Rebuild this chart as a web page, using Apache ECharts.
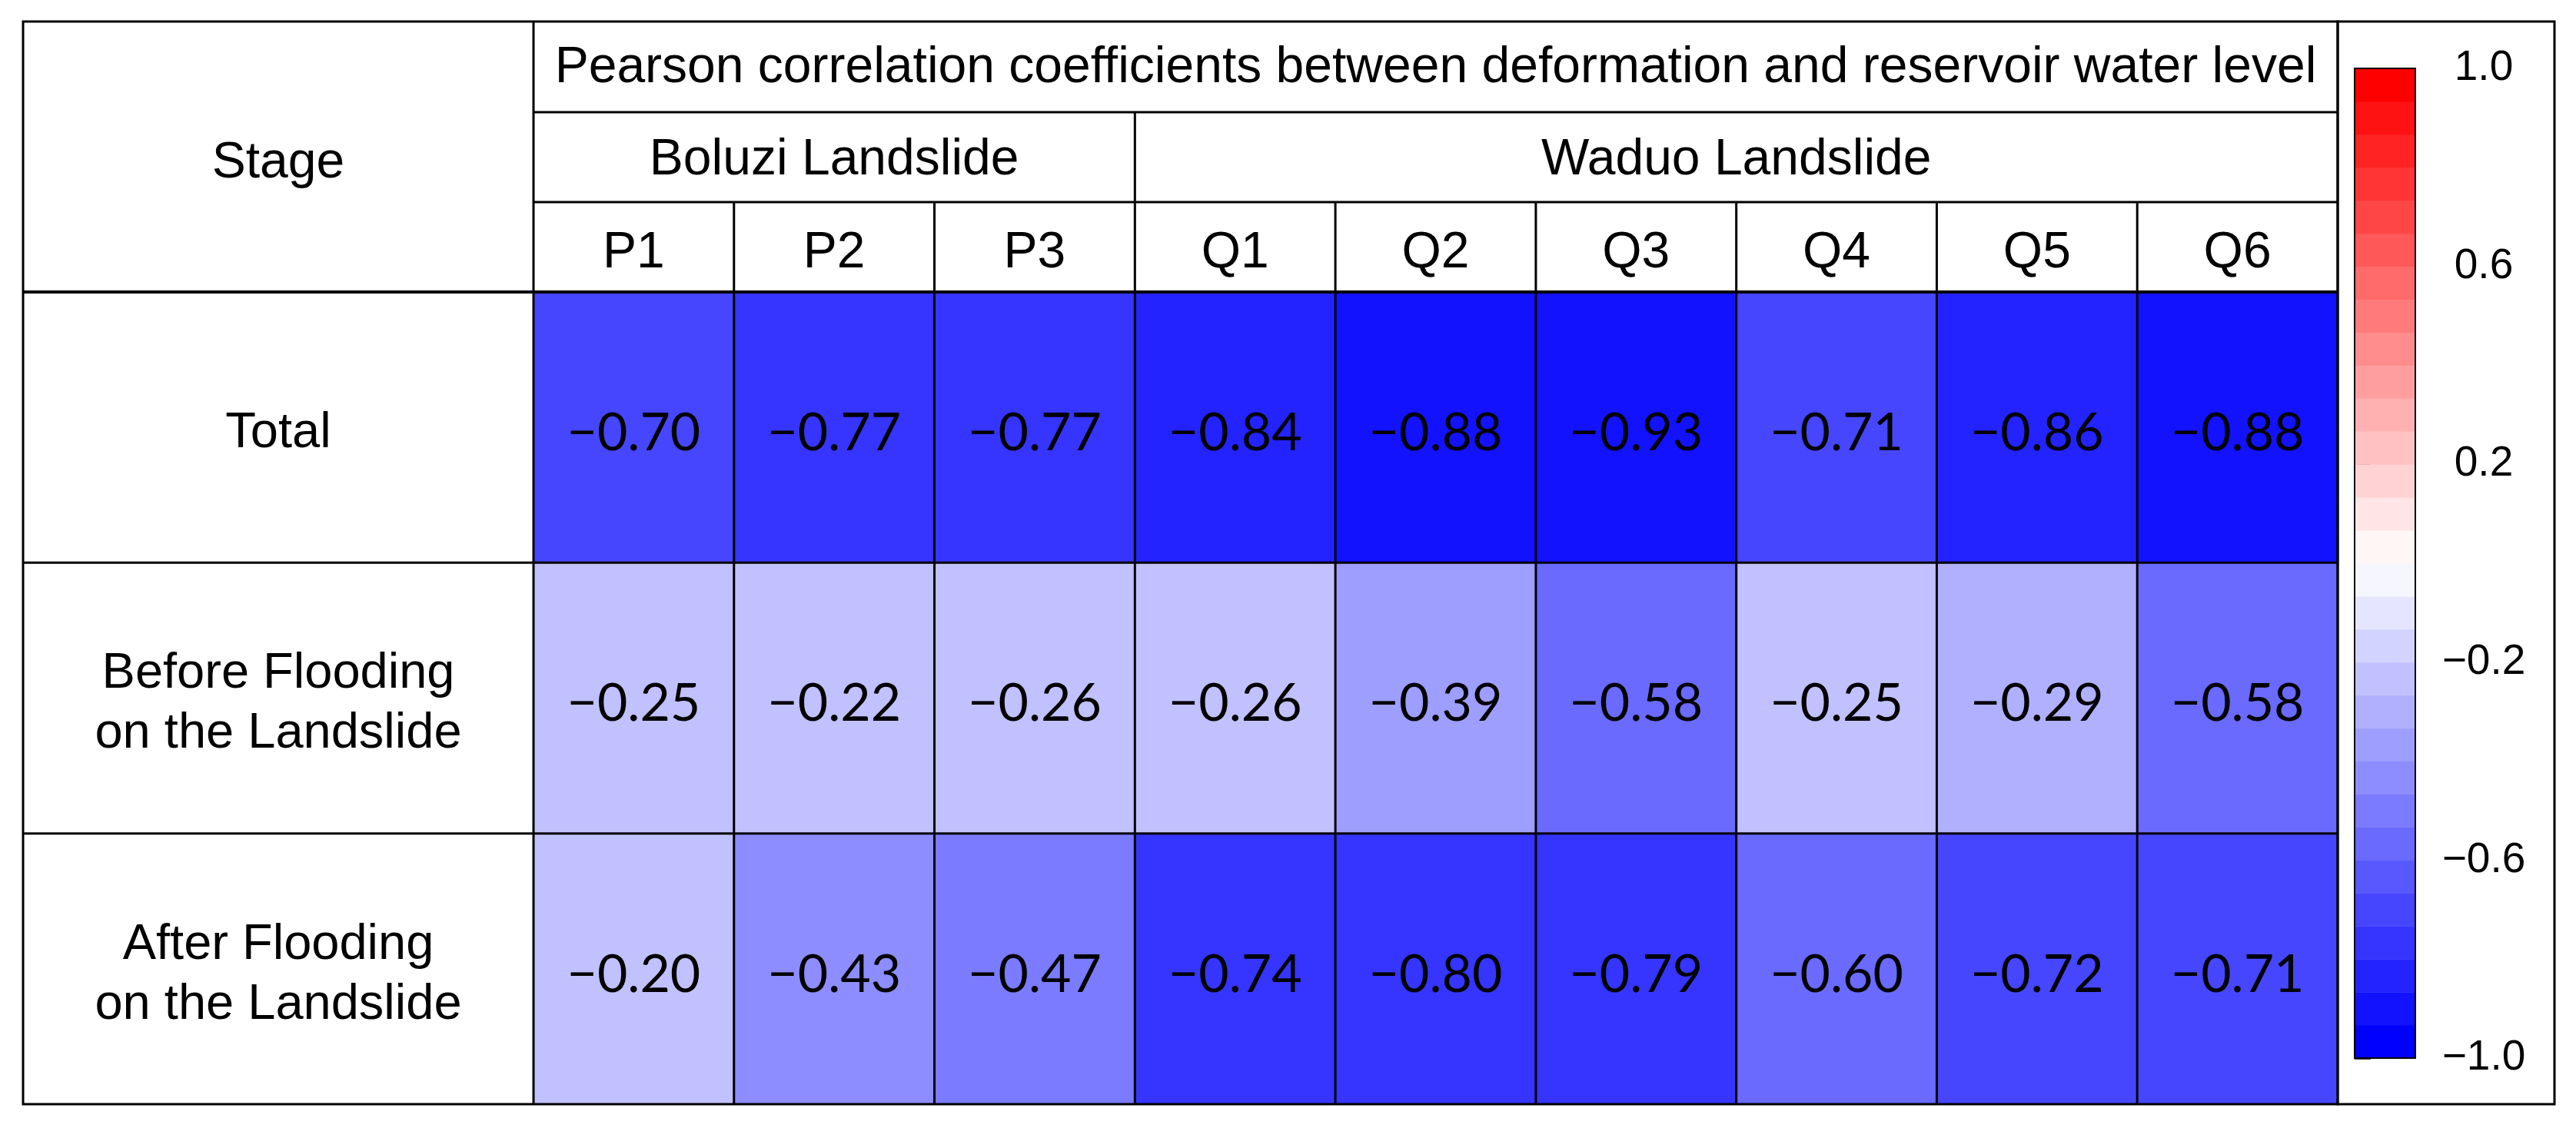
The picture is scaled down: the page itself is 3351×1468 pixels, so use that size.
<!DOCTYPE html>
<html><head><meta charset="utf-8">
<script src="https://cdn.jsdelivr.net/npm/echarts@6/dist/echarts.min.js"></script>
<style>html,body{margin:0;padding:0;background:#fff}#c{width:3351px;height:1468px}</style>
</head><body><div id="c"></div>
<script>
// ---- data ----
const stages = ['Total', 'Before Flooding\non the Landslide', 'After Flooding\non the Landslide'];
const points = ['P1', 'P2', 'P3', 'Q1', 'Q2', 'Q3', 'Q4', 'Q5', 'Q6'];
const groups = ['Boluzi Landslide', 'Waduo Landslide'];
const groupSizes = [3, 6];
const totalValues  = [-0.70, -0.77, -0.77, -0.84, -0.88, -0.93, -0.71, -0.86, -0.88];
const beforeValues = [-0.25, -0.22, -0.26, -0.26, -0.39, -0.58, -0.25, -0.29, -0.58];
const afterValues  = [-0.20, -0.43, -0.47, -0.74, -0.80, -0.79, -0.60, -0.72, -0.71];
const colorbarTicks = [-1.0, -0.6, -0.2, 0.2, 0.6, 1.0];
const titleText = 'Pearson correlation coefficients between deformation and reservoir water level';
const stageHeader = 'Stage';

// ---- layout ----
const L = 30, T = 28, R = 3041, B = 1437;
const SX = 694;            // stage column right edge
const H1 = 146, H2 = 263, H3 = 380; // header row lines
const CB = {x0: 3041, x1: 3323};     // colorbar box
const BAR = {left: 3063, top: 89, width: 79, height: 1288};
const colW = (R - SX) / points.length;
const ARIAL = 'Liberation Sans';
const NSTEP = 30;
const DY = 8; // vertical text nudge

// colour ramp blue-white-red, 30 steps
const palette = [];
for (let i = 0; i < NSTEP; i++) {
  if (i < NSTEP / 2) {
    const f = Math.round(255 * i / 14.5);
    palette.push(`rgb(${f},${f},255)`);
  } else {
    const f = Math.round(255 * (NSTEP - 1 - i) / 14.5);
    palette.push(`rgb(255,${f},${f})`);
  }
}
const pieces = palette.map((c, k) => {
  const p = {gte: -1 + k * 2 / NSTEP, color: c};
  if (k < NSTEP - 1) p.lt = -1 + (k + 1) * 2 / NSTEP; else p.lte = 1;
  return p;
});

const rows = [totalValues, beforeValues, afterValues];
const heatData = [];
rows.forEach((vals, r) => vals.forEach((v, c) => heatData.push([c, r, v])));

const fmt = v => v.toFixed(2).replace('-', '\u2212');

// ---- graphic decoration: table lines & header text ----
const g = [];
const LW = 3;
function line(x1, y1, x2, y2, w) {
  g.push({type: 'line', z: 100, shape: {x1, y1, x2, y2}, style: {stroke: '#000', lineWidth: w || LW}});
}
function text(t, x, y, size) {
  g.push({type: 'text', z: 101, style: {text: t, x, y, fontSize: size, fontFamily: ARIAL, fill: '#000', align: 'center', verticalAlign: 'middle'}});
}
// outer frames
g.push({type: 'rect', z: 100, shape: {x: L, y: T, width: R - L, height: B - T}, style: {fill: 'none', stroke: '#000', lineWidth: LW}});
g.push({type: 'rect', z: 100, shape: {x: CB.x0, y: T, width: CB.x1 - CB.x0, height: B - T}, style: {fill: 'none', stroke: '#000', lineWidth: LW}});
g.push({type: 'rect', z: 100, shape: {x: BAR.left, y: BAR.top, width: BAR.width, height: BAR.height}, style: {fill: 'none', stroke: '#000', lineWidth: 2}});
line(SX, T, SX, B);
line(SX, H1, R, H1);
line(SX, H2, R, H2);
line(L, H3, R, H3, 4);
const rowH = (B - H3) / stages.length;
for (let r = 1; r < stages.length; r++) line(L, H3 + r * rowH, R, H3 + r * rowH);
for (let c = 1; c < points.length; c++) line(SX + c * colW, H2, SX + c * colW, B);
let acc = 0;
groups.forEach((name, i) => {
  const x0 = SX + acc * colW;
  acc += groupSizes[i];
  const x1 = SX + acc * colW;
  if (i < groups.length - 1) line(x1, H1, x1, H2);
  text(name, (x0 + x1) / 2, (H1 + H2) / 2 + 4, 66);
});
text(titleText, (SX + R) / 2, (T + H1) / 2 + 2, 66);
text(stageHeader, (L + SX) / 2, (T + H3) / 2 + 9, 66);

const stageFont = {fontSize: 65, fontFamily: ARIAL, color: '#000', lineHeight: 78, align: 'center'};

const option = {
  animation: false,
  backgroundColor: '#fff',
  grid: [
    {left: SX, top: H3, width: R - SX, height: B - H3},
    {left: BAR.left, top: BAR.top, width: BAR.width, height: BAR.height}
  ],
  xAxis: [
    {gridIndex: 0, type: 'category', data: points, position: 'top',
     axisLine: {show: false}, axisTick: {show: false}, splitLine: {show: false},
     axisLabel: {fontSize: 66, fontFamily: ARIAL, color: '#000', margin: (H3 - H2) / 2 - DY,
                 verticalAlign: 'middle'}},
    {gridIndex: 1, type: 'value', min: 0, max: 1, show: false}
  ],
  yAxis: [
    {gridIndex: 0, type: 'category', data: stages, inverse: true,
     axisLine: {show: false}, axisTick: {show: false}, splitLine: {show: false},
     axisLabel: {margin: SX - (L + SX) / 2, align: 'center', verticalAlign: 'middle',
                 formatter: v => '{s| }\n' + v.split('\n').map(s => '{a|' + s + '}').join('\n'),
                 rich: {
                   s: {fontSize: 1, lineHeight: 2 * DY, align: 'center'},
                   a: stageFont
                 }}},
    {gridIndex: 1, type: 'value', min: -1, max: 1, interval: 0.4, position: 'right',
     axisLine: {show: false}, splitLine: {show: false},
     axisTick: {show: true, length: 21, customValues: colorbarTicks, lineStyle: {color: '#000', width: 2.5}},
     axisLabel: {fontSize: 55, fontFamily: ARIAL, color: '#000', margin: 89, align: 'center',
                 customValues: colorbarTicks,
                 formatter: v => v.toFixed(1).replace('-', '\u2212')}}
  ],
  visualMap: {type: 'piecewise', show: false, seriesIndex: 0, dimension: 2, pieces: pieces},
  series: [
    {type: 'heatmap', xAxisIndex: 0, yAxisIndex: 0, data: heatData,
     itemStyle: {borderWidth: 0},
     emphasis: {disabled: true},
     label: {show: true, fontSize: 68, fontFamily: 'Lato', color: '#000', offset: [0, DY],
             formatter: p => fmt(p.value[2])}},
    {type: 'custom', xAxisIndex: 1, yAxisIndex: 1, silent: true,
     data: palette.map((c, k) => [k]),
     renderItem: (params, api) => {
       const k = api.value(0);
       const lo = -1 + k * 2 / NSTEP, hi = -1 + (k + 1) * 2 / NSTEP;
       const p1 = api.coord([0, hi]), p2 = api.coord([1, lo]);
       return {type: 'rect', shape: {x: p1[0], y: p1[1], width: p2[0] - p1[0], height: p2[1] - p1[1] + 0.5},
               style: {fill: palette[k]}};
     }}
  ],
  graphic: g
};

const chart = echarts.init(document.getElementById('c'), null, {renderer: 'canvas'});
chart.setOption(option);
</script>
</body></html>
